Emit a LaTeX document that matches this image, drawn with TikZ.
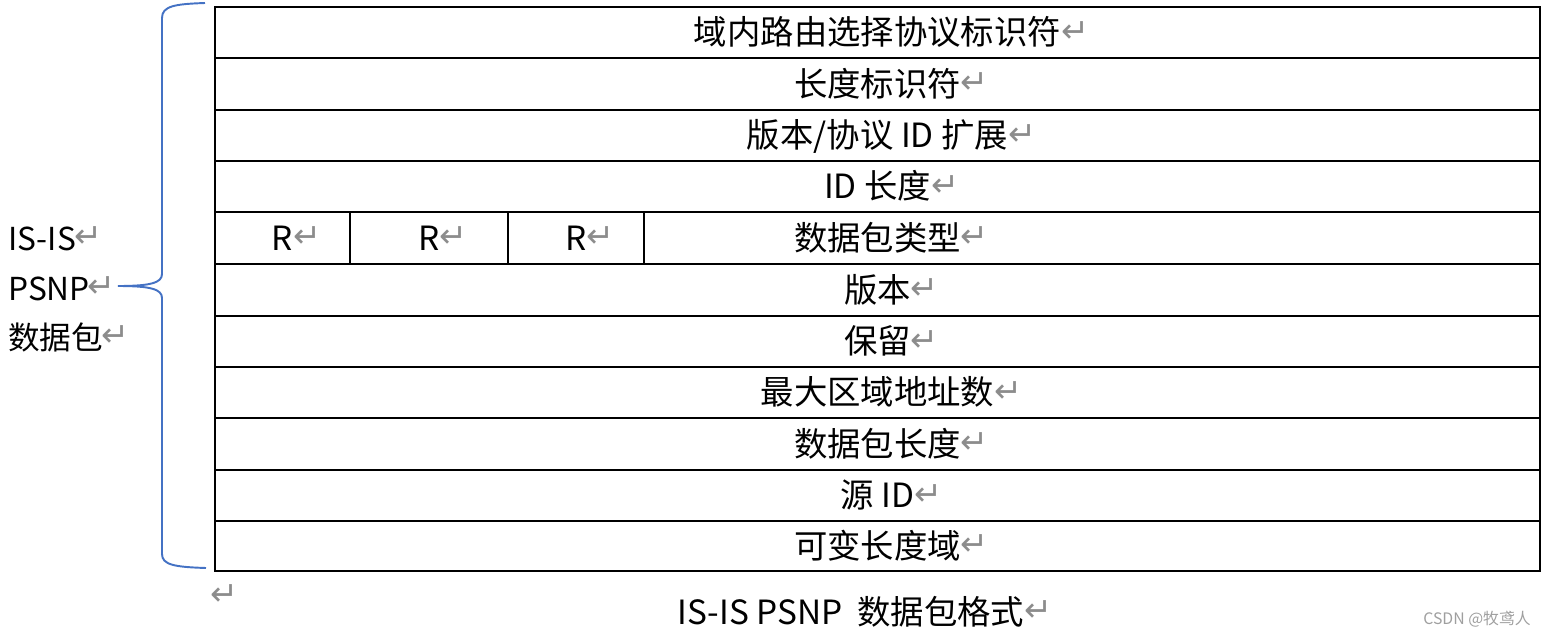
\documentclass[tikz,border=0pt]{standalone}
\usepackage{fontspec}
\setmainfont{Noto Sans CJK SC}
\newfontfamily\retfont{DejaVu Sans}
\usepackage{tikz}
\usetikzlibrary{arrows}
\definecolor{bracecol}{HTML}{4472C4}
\newcommand{\retmark}{\raisebox{1.5pt}{\retfont\fontsize{19}{19}\selectfont\color{black!45}↵}}
\newcommand{\ret}{\rlap{\retmark}}

\begin{document}
\begin{tikzpicture}[x=0.02cm,y=-0.02cm,
		field/.style={inner sep=0pt,text height=15pt,text depth=1pt,font=\fontsize{19}{19}\selectfont},
		sidename/.style={field,anchor=west,font=\fontsize{18}{18}\selectfont},
		rowline/.style={line width=1.1pt},
		cellline/.style={line width=0.6pt}]
		\useasboundingbox (0,0) rectangle (1542,636);
%		\draw[help lines,step=50] (0,0) grid (1542,636);
		\path (215,7) coordinate (tbl_tl);
		\path (1540,571) coordinate (tbl_br);
		\path (877.5,0) coordinate (mid);

		\path (mid |- 0,32.5) coordinate (idrp);
		\path (mid |- 0,84) coordinate (lenid);
		\path (mid |- 0,135.5) coordinate (verext);
		\path (mid |- 0,186.5) coordinate (idlen);
		\path (mid |- 0,238) coordinate (pdutype);
		\path (mid |- 0,290) coordinate (ver);
		\path (mid |- 0,341.5) coordinate (resv);
		\path (mid |- 0,392.5) coordinate (maxarea);
		\path (mid |- 0,444) coordinate (pdulen);
		\path (mid |- 0,495.5) coordinate (srcid);
		\path (mid |- 0,546) coordinate (varlen);

		% table
		\draw[rowline] (tbl_tl) rectangle (tbl_br);
		\draw[rowline] (215,58) -- (1540,58) (215,110) -- (1540,110)
			(215,161) -- (1540,161) (215,212) -- (1540,212)
			(215,264) -- (1540,264) (215,316) -- (1540,316)
			(215,367) -- (1540,367) (215,418) -- (1540,418)
			(215,470) -- (1540,470) (215,521) -- (1540,521);
		\draw[cellline] (350,212) -- (350,264) (508,212) -- (508,264) (644,212) -- (644,264);

		\node[field] (f_idrp) at (idrp) {域内路由选择协议标识符\ret};
		\node[field] (f_lenid) at (lenid) {长度标识符\ret};
		\node[field] (f_verext) at (verext) {版本/协议 ID 扩展\ret};
		\node[field] (f_idlen) at (idlen) {ID 长度\ret};
		\node[field] (f_r1) at (282.5,238) {R\ret};
		\node[field] (f_r2) at (429,238) {R\ret};
		\node[field] (f_r3) at (576,238) {R\ret};
		\node[field] (f_pdutype) at (pdutype) {数据包类型\ret};
		\node[field] (f_ver) at (ver) {版本\ret};
		\node[field] (f_resv) at (resv) {保留\ret};
		\node[field] (f_maxarea) at (maxarea) {最大区域地址数\ret};
		\node[field] (f_pdulen) at (pdulen) {数据包长度\ret};
		\node[field] (f_srcid) at (srcid) {源 ID\ret};
		\node[field] (f_varlen) at (varlen) {可变长度域\ret};

		% brace and name
		\draw[bracecol,line width=1.1pt] (205,3) .. controls (175,4) and (162,6) .. (162,18)
			-- (162,274) .. controls (162,283) and (150,286) .. (118,286)
			.. controls (150,286) and (162,289) .. (162,298)
			-- (162,554) .. controls (162,565) and (175,567) .. (206,568);
		\node[sidename] (n_isis) at (8,238) {IS-IS\kern-1pt\retmark};
		\node[sidename] (n_psnp) at (8,288) {PSNP\kern-1pt\retmark};
		\node[sidename] (n_pdu) at (8,337) {数据包\kern-1pt\retmark};

		% caption
		\node[field] (emptypar) at (224,596) {\retmark};
		\node[field] (caption) at (851,612) {IS-IS PSNP\ \ 数据包格式\ret};
		\node[inner sep=0pt,font=\fontsize{9}{9}\selectfont,text=gray!75] (mark) at (1477,619) {CSDN @牧鸢人};
	\end{tikzpicture}
\end{document}
